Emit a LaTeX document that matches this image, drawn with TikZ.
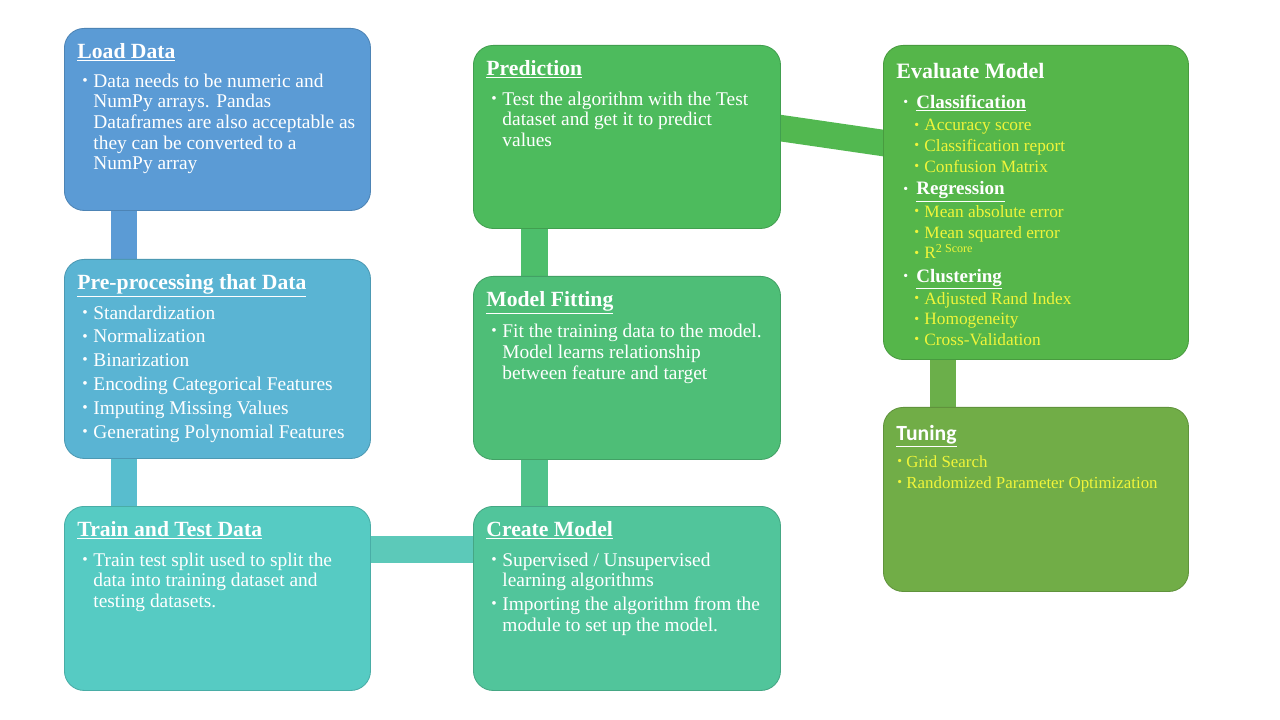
\documentclass[tikz,border=0pt]{standalone}
\usepackage{fontspec}
\setmainfont{Liberation Serif}
\newfontfamily\tunefont{Carlito}
\usetikzlibrary{calc,backgrounds}

\newlength\pxl
\setlength\pxl{0.025cm}
\newcommand{\bitem}[3]{\par\hangindent=#2\pxl\hangafter=1\noindent\makebox[#2\pxl][l]{\hspace{#1\pxl}\raisebox{0.1em}{\scalebox{0.8}{\textbullet}}}#3}
\newcommand{\boxhead}[2]{\rule{0pt}{30\pxl}{\fontsize{15.4}{18}\selectfont\bfseries\underline{#1}}\par\vspace{#2\pxl}}

\begin{document}
\begin{tikzpicture}[x=0.025cm,y=-0.025cm]
\definecolor{load_fill}{HTML}{5B9BD5}
\definecolor{pre_fill}{HTML}{5AB4D3}
\definecolor{train_fill}{HTML}{56CBC3}
\definecolor{pred_fill}{HTML}{4DBB5D}
\definecolor{fit_fill}{HTML}{4EBE77}
\definecolor{create_fill}{HTML}{51C59B}
\definecolor{eval_fill}{HTML}{55B64A}
\definecolor{tune_fill}{HTML}{71AD47}
\definecolor{pre_link}{HTML}{58BDCE}
\definecolor{train_link}{HTML}{5CC9B9}
\definecolor{fit_link}{HTML}{50C28A}
\definecolor{pred_link}{HTML}{4DBE6B}
\definecolor{eval_link}{HTML}{52B850}
\definecolor{tune_link}{HTML}{6BAF4A}
\definecolor{item_yellow}{HTML}{F0F53A}
\tikzset{
  stepbox/.style={rounded corners=14pt, fill=#1, draw=#1!85!black, line width=0.6pt,
    anchor=north west, inner xsep=0.325cm, inner ysep=0pt, text=white,
    font=\fontsize{13.8}{14.7}\selectfont},
  link/.style={line width=0.66cm}
}

\useasboundingbox (0,0) rectangle (1280,720);

\node[stepbox=load_fill] (load) at (64,28) {\parbox[c][4.55cm][t]{7cm}{\raggedright
\boxhead{Load Data}{8}
\bitem{5}{16}{Data needs to be numeric and\newline NumPy arrays. Pandas\newline Dataframes are also acceptable as\newline they can be converted to a\newline NumPy array}}};

\node[stepbox=pre_fill, font=\fontsize{13.8}{16.9}\selectfont] (pre) at (64,259) {\parbox[c][4.975cm][t]{7cm}{\raggedright
\boxhead{Pre-processing that Data}{6}
\bitem{5}{16}{Standardization}
\bitem{5}{16}{Normalization}
\bitem{5}{16}{Binarization}
\bitem{5}{16}{Encoding Categorical Features}
\bitem{5}{16}{Imputing Missing Values}
\bitem{5}{16}{Generating Polynomial Features}}};

\node[stepbox=train_fill] (train) at (64,506) {\parbox[c][4.6cm][t]{7cm}{\raggedright
\boxhead{Train and Test Data}{9}
\bitem{5}{16}{Train test split used to split the\newline data into training dataset and\newline testing datasets.}}};

\node[stepbox=pred_fill] (pred) at (473,45) {\parbox[c][4.575cm][t]{7.025cm}{\raggedright
\boxhead{Prediction}{9}
\bitem{5}{16}{Test the algorithm with the Test\newline dataset and get it to predict\newline values}}};

\node[stepbox=fit_fill] (fit) at (473,276) {\parbox[c][4.575cm][t]{7.025cm}{\raggedright
\boxhead{Model Fitting}{9}
\bitem{5}{16}{Fit the training data to the model.\newline Model learns relationship\newline between feature and target}}};

\node[stepbox=create_fill] (create) at (473,506) {\parbox[c][4.6cm][t]{7.025cm}{\raggedright
\boxhead{Create Model}{9}
\bitem{5}{16}{Supervised / Unsupervised\newline learning algorithms}\par\vspace{3\pxl}
\bitem{5}{16}{Importing the algorithm from the\newline module to set up the model.}}};

\node[stepbox=eval_fill, font=\fontsize{12.3}{14.7}\selectfont] (eval) at (883,45) {\parbox[c][7.85cm][t]{6.975cm}{\raggedright
\rule{0pt}{33\pxl}{\fontsize{15.6}{18}\selectfont\bfseries Evaluate Model}\par\vspace{9\pxl}
\bitem{7}{20}{{\fontsize{13.5}{14.7}\selectfont\bfseries\underline{Classification}}}\par\vspace{2\pxl}
{\color{item_yellow}
\bitem{18}{28}{Accuracy score}
\bitem{18}{28}{Classification report}
\bitem{18}{28}{Confusion Matrix}\par}\vspace{2\pxl}
\bitem{7}{20}{{\fontsize{13.5}{14.7}\selectfont\bfseries\underline{Regression}}}\par\vspace{2\pxl}
{\color{item_yellow}
\bitem{18}{28}{Mean absolute error}
\bitem{18}{28}{Mean squared error}
\bitem{18}{28}{R\textsuperscript{2 Score}}\par}\vspace{3\pxl}
\bitem{7}{20}{{\fontsize{13.5}{14.7}\selectfont\bfseries\underline{Clustering}}}\par\vspace{1\pxl}
{\color{item_yellow}
\bitem{18}{28}{Adjusted Rand Index}
\bitem{18}{28}{Homogeneity}
\bitem{18}{28}{Cross-Validation}\par}}};

\node[stepbox=tune_fill, font=\fontsize{12}{14.9}\selectfont] (tune) at (883,407) {\parbox[c][4.6cm][t]{6.975cm}{\raggedright
\rule{0pt}{33\pxl}{\fontsize{15.4}{18}\selectfont\tunefont\bfseries\underline{Tuning}}\par\vspace{6\pxl}
{\color{item_yellow}
\bitem{1}{10}{Grid Search}
\bitem{1}{10}{Randomized Parameter Optimization}\par}}};

\begin{scope}[on background layer]
\fill[white] (0,0) rectangle (1280,720);
\foreach \a/\b/\c/\x in {load/pre/load_fill/60,pre/train/pre_link/60,pred/fit/pred_link/61.5,fit/create/fit_link/61.5,eval/tune/tune_link/60}{
\draw[link,\c] ($(\a.south west)+(\x,-5)$) -- ($(\b.north west)+(\x,5)$);
}
\draw[link,train_link] ($(train.north east)+(-5,43.5)$) -- ($(create.north west)+(5,43.5)$);
\draw[link,eval_link] ($(pred.north east)+(-21,80.1)$) -- ($(eval.north west)+(20,100.9)$);
\end{scope}
\end{tikzpicture}
\end{document}
